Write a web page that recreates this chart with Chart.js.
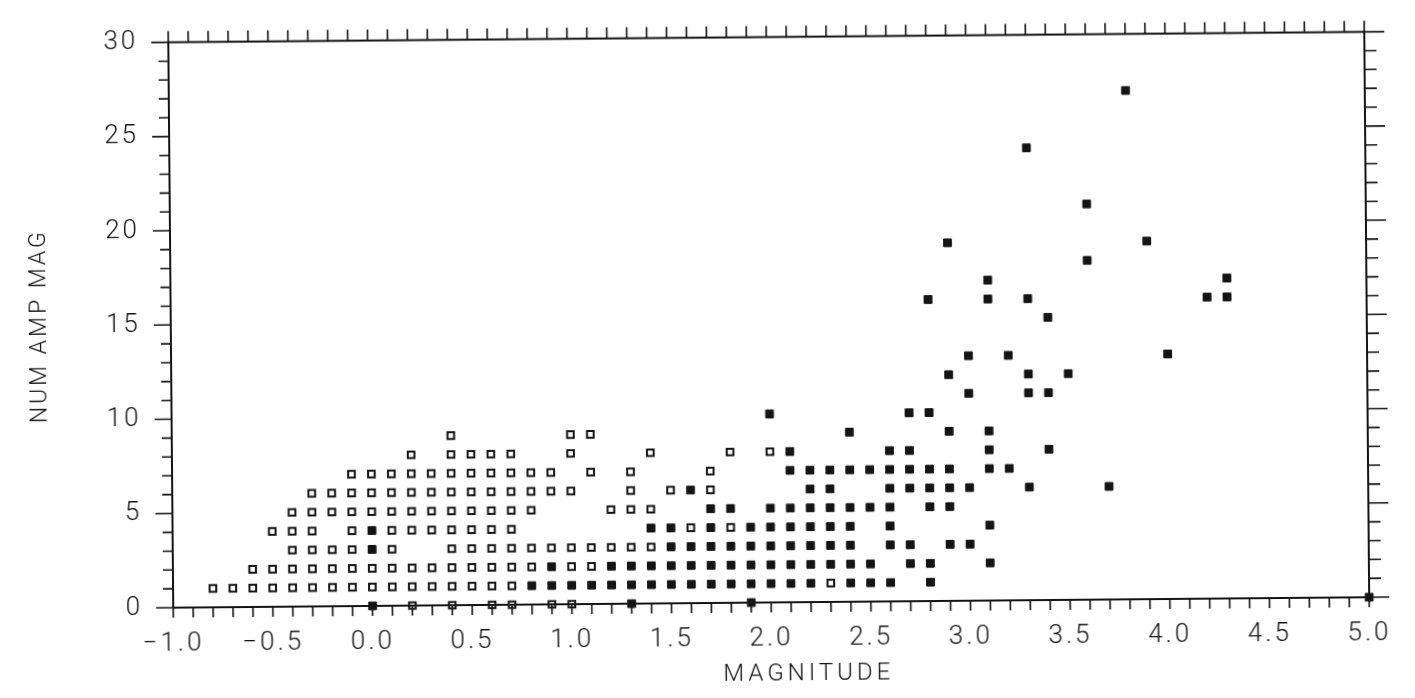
<!DOCTYPE html>
<html>
<head>
<meta charset="utf-8">
<title>NUM AMP MAG vs MAGNITUDE</title>
<script src="https://cdn.jsdelivr.net/npm/chart.js@4.4.1/dist/chart.umd.min.js"></script>
<style>
  html, body { margin: 0; padding: 0; background: #fff; overflow: hidden; }
  #wrap { width: 1415px; height: 698px; transform: rotate(-0.5deg); }
</style>
</head>
<body>
<div id="wrap"><canvas id="amp" width="1415" height="698"></canvas></div>
<script>
// open squares, listed row by row (count value in openNum)
const openMag = [
  0.2, 0.4, 0.6, 0.7, 0.9, 1.0,
  -0.8, -0.7, -0.6, -0.5, -0.4, -0.3, -0.2, -0.1, 0.0, 0.1, 0.2, 0.3, 0.4, 0.5, 0.6, 0.7, 2.3,
  -0.6, -0.5, -0.4, -0.3, -0.2, -0.1, 0.0, 0.1, 0.2, 0.3, 0.4, 0.5, 0.6, 0.7, 0.8, 1.0, 1.1,
  -0.4, -0.3, -0.2, -0.1, 0.1, 0.4, 0.5, 0.6, 0.7, 0.8, 0.9, 1.0, 1.1, 1.2, 1.3, 1.4,
  -0.5, -0.4, -0.3, -0.1, 0.1, 0.2, 0.3, 0.4, 0.5, 0.6, 0.7, 1.6, 1.8,
  -0.4, -0.3, -0.2, -0.1, 0.0, 0.1, 0.2, 0.3, 0.4, 0.5, 0.6, 0.7, 0.8, 1.2, 1.3, 1.4,
  -0.3, -0.2, -0.1, 0.0, 0.1, 0.2, 0.3, 0.4, 0.5, 0.6, 0.7, 0.8, 0.9, 1.0, 1.3, 1.5, 1.7,
  -0.1, 0.0, 0.1, 0.2, 0.3, 0.4, 0.5, 0.6, 0.7, 0.8, 0.9, 1.1, 1.3, 1.7,
  0.2, 0.4, 0.5, 0.6, 0.7, 1.0, 1.4, 1.8, 2.0,
  0.4, 1.0, 1.1
];
const openNum = [
  0, 0, 0, 0, 0, 0,
  1, 1, 1, 1, 1, 1, 1, 1, 1, 1, 1, 1, 1, 1, 1, 1, 1,
  2, 2, 2, 2, 2, 2, 2, 2, 2, 2, 2, 2, 2, 2, 2, 2, 2,
  3, 3, 3, 3, 3, 3, 3, 3, 3, 3, 3, 3, 3, 3, 3, 3,
  4, 4, 4, 4, 4, 4, 4, 4, 4, 4, 4, 4, 4,
  5, 5, 5, 5, 5, 5, 5, 5, 5, 5, 5, 5, 5, 5, 5, 5,
  6, 6, 6, 6, 6, 6, 6, 6, 6, 6, 6, 6, 6, 6, 6, 6, 6,
  7, 7, 7, 7, 7, 7, 7, 7, 7, 7, 7, 7, 7, 7,
  8, 8, 8, 8, 8, 8, 8, 8, 8,
  9, 9, 9
];

// filled squares
const fullMag = [
  0.0, 1.3, 1.9, 5.0,
  0.8, 0.9, 1.0, 1.1, 1.2, 1.3, 1.4, 1.5, 1.6, 1.7, 1.8, 1.9, 2.0, 2.1, 2.2, 2.4, 2.5, 2.6, 2.8,
  0.9, 1.2, 1.3, 1.4, 1.5, 1.6, 1.7, 1.8, 1.9, 2.0, 2.1, 2.2, 2.3, 2.4, 2.5, 2.7, 2.8, 3.1,
  0.0, 1.5, 1.6, 1.7, 1.8, 1.9, 2.0, 2.1, 2.2, 2.3, 2.4, 2.6, 2.7, 2.9, 3.0,
  0.0, 1.4, 1.5, 1.7, 1.9, 2.0, 2.1, 2.2, 2.3, 2.4, 2.6, 3.1,
  1.7, 1.8, 2.0, 2.1, 2.2, 2.3, 2.4, 2.5, 2.6, 2.8, 2.9,
  1.6, 2.2, 2.3, 2.6, 2.7, 2.8, 2.9, 3.0, 3.3, 3.7,
  2.1, 2.2, 2.3, 2.4, 2.5, 2.6, 2.7, 2.8, 2.9, 3.1, 3.2,
  2.1, 2.6, 2.7, 3.1, 3.4,
  2.4, 2.9, 3.1,
  2.0, 2.7, 2.8,
  3.0, 3.3, 3.4,
  2.9, 3.3, 3.5,
  3.0, 3.2, 4.0,
  3.4,
  2.8, 3.1, 3.3, 4.2, 4.3,
  3.1, 4.3,
  3.6,
  2.9, 3.9,
  3.6,
  3.3,
  3.8
];
const fullNum = [
  0, 0, 0, 0,
  1, 1, 1, 1, 1, 1, 1, 1, 1, 1, 1, 1, 1, 1, 1, 1, 1, 1, 1,
  2, 2, 2, 2, 2, 2, 2, 2, 2, 2, 2, 2, 2, 2, 2, 2, 2, 2,
  3, 3, 3, 3, 3, 3, 3, 3, 3, 3, 3, 3, 3, 3, 3,
  4, 4, 4, 4, 4, 4, 4, 4, 4, 4, 4, 4,
  5, 5, 5, 5, 5, 5, 5, 5, 5, 5, 5,
  6, 6, 6, 6, 6, 6, 6, 6, 6, 6,
  7, 7, 7, 7, 7, 7, 7, 7, 7, 7, 7,
  8, 8, 8, 8, 8,
  9, 9, 9,
  10, 10, 10,
  11, 11, 11,
  12, 12, 12,
  13, 13, 13,
  15,
  16, 16, 16, 16, 16,
  17, 17,
  18,
  19, 19,
  21,
  24,
  27
];

const magLabels = [-1.0, -0.5, 0.0, 0.5, 1.0, 1.5, 2.0, 2.5, 3.0, 3.5, 4.0, 4.5, 5.0];
const numLabels = [0, 5, 10, 15, 20, 25, 30];

const ink = '#141414';
const tickFont = { family: 'Roboto', size: 26, weight: '300' };
const titleFont = { family: 'Roboto', size: 23, weight: '300' };

const toPoints = (xs, ys) => xs.map((x, i) => ({ x: x, y: ys[i] }));

// wide letter spacing for all canvas text
const spacing = {
  id: 'spacing',
  beforeUpdate(chart) { chart.ctx.letterSpacing = '3px'; },
  beforeDraw(chart) { chart.ctx.letterSpacing = '3px'; }
};

// frame, the 0.1 / 1-unit tick marks on all four sides, and the x title
const frameTicks = {
  id: 'frameTicks',
  afterDraw(chart) {
    const ctx = chart.ctx;
    const a = chart.chartArea;
    const xs = chart.scales.x, ys = chart.scales.y;
    ctx.save();
    ctx.strokeStyle = ink;
    ctx.lineWidth = 2;
    ctx.strokeRect(a.left, a.top, a.right - a.left, a.bottom - a.top);
    ctx.lineWidth = 1.6;
    ctx.beginPath();
    for (let k = -10; k <= 50; k++) {
      const px = xs.getPixelForValue(k / 10);
      ctx.moveTo(px, a.bottom); ctx.lineTo(px, a.bottom + 10);
      ctx.moveTo(px, a.top); ctx.lineTo(px, a.top - 11);
    }
    for (let v = 0; v <= 30; v++) {
      const py = ys.getPixelForValue(v);
      const major = v % 5 === 0;
      ctx.moveTo(a.left - (major ? 17 : 10), py); ctx.lineTo(a.left, py);
      ctx.moveTo(a.right, py); ctx.lineTo(a.right + (major ? 20 : 12), py);
    }
    ctx.stroke();

    ctx.fillStyle = ink;
    ctx.font = '300 24px Roboto';
    ctx.letterSpacing = '4px';
    ctx.textAlign = 'center';
    ctx.textBaseline = 'middle';
    ctx.fillText('MAGNITUDE', 806, 675);
    ctx.restore();
  }
};

new Chart(document.getElementById('amp'), {
  type: 'scatter',
  data: {
    datasets: [
      {
        label: 'open',
        data: toPoints(openMag, openNum),
        pointStyle: 'rect',
        pointRadius: 4.7,
        pointBorderWidth: 2,
        pointBackgroundColor: '#fff',
        pointBorderColor: ink,
        clip: false
      },
      {
        label: 'filled',
        data: toPoints(fullMag, fullNum),
        pointStyle: 'rect',
        pointRadius: 5.5,
        pointBorderWidth: 1,
        pointBackgroundColor: ink,
        pointBorderColor: ink,
        clip: false
      }
    ]
  },
  options: {
    responsive: false,
    animation: false,
    devicePixelRatio: 1,
    layout: { padding: { top: 29, right: 48, left: 0, bottom: 0 } },
    plugins: {
      legend: { display: false },
      tooltip: { enabled: false }
    },
    scales: {
      x: {
        type: 'linear',
        min: -1.0,
        max: 5.0,
        afterFit: s => { s.height = 95; },
        afterBuildTicks: s => { s.ticks = magLabels.map(v => ({ value: v })); },
        grid: { display: false },
        border: { display: false },
        ticks: {
          padding: 13,
          color: ink,
          font: tickFont,
          maxRotation: 0,
          autoSkip: false,
          callback: v => (v < -1e-9 ? '\u2212' : '') + Math.abs(v).toFixed(1)
        },
        title: { display: false }
      },
      y: {
        type: 'linear',
        min: 0,
        max: 30,
        afterFit: s => { s.width = 171; },
        afterBuildTicks: s => { s.ticks = numLabels.map(v => ({ value: v })); },
        grid: { display: false },
        border: { display: false },
        ticks: {
          padding: 22,
          color: ink,
          font: tickFont,
          autoSkip: false
        },
        title: {
          display: true,
          text: 'NUM AMP MAG',
          color: ink,
          font: titleFont,
          padding: { top: 26, bottom: 0 }
        }
      }
    }
  },
  plugins: [spacing, frameTicks]
});
</script>
</body>
</html>
